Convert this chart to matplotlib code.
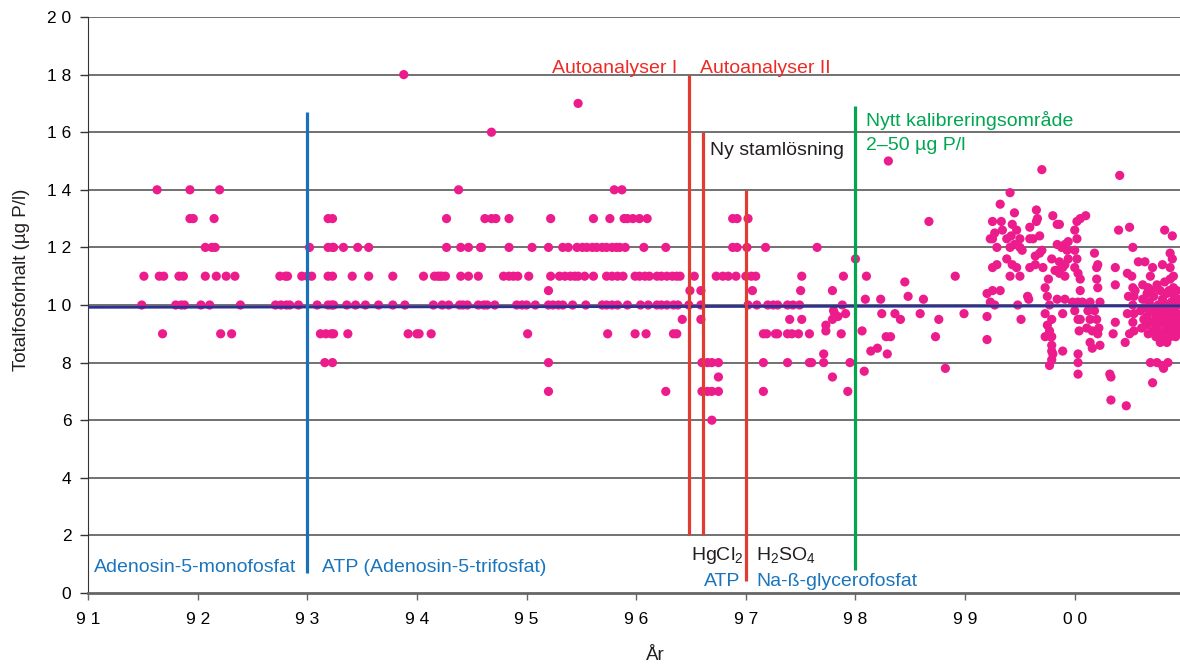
import matplotlib
matplotlib.use('Agg')
import matplotlib.pyplot as plt

plt.rcParams['font.family'] = ['Liberation Sans', 'DejaVu Sans']
plt.rcParams['mathtext.fontset'] = 'custom'
plt.rcParams['mathtext.rm'] = 'Liberation Sans'
plt.rcParams['mathtext.default'] = 'regular'

# Analyser 1991-1997 (värden avlästa i hela steg)
niva_18 = [93.88]
niva_17 = [95.47]
niva_16 = [94.68]
niva_14 = [91.63, 91.93, 92.20, 94.38, 95.80, 95.87]
niva_13 = [91.93, 91.96, 92.15, 93.19, 93.23, 94.27, 94.62, 94.68, 94.72, 94.84,
           95.22, 95.61, 95.76, 95.89, 95.92, 95.97, 96.03, 96.10, 96.88, 96.92, 97.02]
niva_12 = [92.07, 92.13, 92.16, 93.02, 93.19, 93.23, 93.24, 93.33, 93.46, 93.56,
           94.27, 94.40, 94.47, 94.58, 94.59, 94.84, 95.05, 95.20, 95.33, 95.38,
           95.46, 95.51, 95.55, 95.60, 95.64, 95.69, 95.73, 95.78, 95.82, 95.85,
           95.90, 96.07, 96.27, 96.88, 96.92, 97.01, 97.18, 97.65]
niva_11 = [91.51, 91.65, 91.69, 91.83, 91.87, 92.07, 92.17, 92.26, 92.34, 92.75,
           92.80, 92.82, 92.95, 93.00, 93.04, 93.19, 93.23, 93.41, 93.56, 93.78,
           94.06, 94.16, 94.19, 94.21, 94.23, 94.26, 94.40, 94.47, 94.56, 94.79,
           94.84, 94.88, 94.92, 95.02, 95.22, 95.30, 95.35, 95.40, 95.44, 95.47,
           95.53, 95.61, 95.73, 95.78, 95.83, 95.88, 95.99, 96.03, 96.08, 96.12,
           96.19, 96.23, 96.28, 96.33, 96.37, 96.40, 96.53, 96.73, 96.79, 96.84,
           96.91, 97.00, 97.05, 97.09, 97.51]
niva_105 = [95.20, 96.49, 96.59, 97.06, 97.50]
niva_10 = [91.49, 91.80, 91.85, 91.88, 92.03, 92.11, 92.39, 92.71, 92.76, 92.81,
           92.84, 92.92, 93.09, 93.19, 93.22, 93.24, 93.36, 93.44, 93.53, 93.65,
           93.78, 93.89, 94.15, 94.23, 94.29, 94.39, 94.42, 94.46, 94.56, 94.61,
           94.64, 94.71, 94.91, 94.96, 95.00, 95.08, 95.20, 95.24, 95.29, 95.33,
           95.42, 95.54, 95.69, 95.73, 95.78, 95.83, 95.92, 96.04, 96.11, 96.19,
           96.23, 96.28, 96.34, 96.38, 96.48, 96.59, 97.02, 97.10, 97.20, 97.25,
           97.29, 97.38, 97.43, 97.49]
niva_95 = [96.42, 96.59, 97.40, 97.51]
niva_9 = [91.68, 92.21, 92.31, 93.12, 93.17, 93.22, 93.24, 93.37, 93.92, 94.00,
          94.02, 94.13, 95.01, 95.74, 95.99, 96.09, 96.34, 96.37, 97.16, 97.19,
          97.27, 97.29, 97.38, 97.42, 97.48, 97.58]
niva_8 = [93.16, 93.23, 95.20, 96.60, 96.65, 96.69, 96.75, 97.16, 97.38, 97.58,
          97.60, 97.71]
niva_75 = [96.75]
niva_7 = [95.20, 96.27, 96.60, 96.65, 96.69, 96.75, 97.16]
niva_6 = [96.69]

nivaer = {18: niva_18, 17: niva_17, 16: niva_16, 14: niva_14, 13: niva_13,
          12: niva_12, 11: niva_11, 10.5: niva_105, 10: niva_10, 9.5: niva_95,
          9: niva_9, 8: niva_8, 7.5: niva_75, 7: niva_7, 6: niva_6}

# Analyser 1997-2000 (kontinuerliga värden)
ar_sen = [97.80, 97.84, 97.73, 97.73, 97.79, 97.71, 97.79, 97.79, 97.89, 97.88,
          97.81, 97.91, 97.87, 97.95, 97.93, 98.00,
          98.30, 98.67, 98.10, 98.91, 98.45, 98.48, 98.09, 98.23, 98.62, 98.24,
          98.36, 98.41, 98.59, 98.76, 98.99, 98.06, 98.28, 98.32, 98.73, 98.14,
          98.20, 98.29, 98.08, 98.82,
          99.70, 100.41, 99.41, 99.32, 99.45, 99.43, 99.47, 99.42, 99.50, 99.52,
          99.25, 99.33, 99.65, 99.66, 99.65, 99.80, 99.84, 99.86, 100.02, 100.05,
          100.10, 100.00, 100.02, 100.00, 100.02, 99.59, 99.59, 99.62, 99.68, 99.70,
          99.27, 99.25, 99.23, 99.29, 99.34, 99.38, 99.41, 99.45, 99.50, 99.84,
          99.88, 99.91, 99.94, 99.93, 99.68, 99.64, 99.79, 99.86, 99.91, 99.94,
          99.89, 99.84, 100.00, 100.05, 100.03, 99.38, 99.43, 99.47, 99.50, 99.29,
          99.25, 99.41, 99.59, 99.64, 99.71, 99.76, 99.82, 99.86, 99.91, 99.20,
          99.25, 99.32, 99.23, 99.27, 99.20, 99.20, 99.48, 99.51, 99.57, 99.58,
          99.73, 99.75, 99.77, 99.73, 99.79, 99.75, 99.77, 99.79, 99.73, 99.79,
          99.79, 99.80, 99.77, 99.79, 99.84, 99.91, 99.89, 99.89, 100.05, 99.98,
          100.03, 100.07, 100.00, 100.03, 100.05, 100.04, 100.03, 100.03, 100.03, 100.18,
          100.21, 100.20, 100.20, 100.21, 100.14, 100.23, 100.12, 100.18, 100.14, 100.20,
          100.16, 100.22, 100.11, 100.14, 100.16, 100.23, 100.32, 100.33, 100.33, 100.47,
          100.37, 100.37, 100.40, 100.50, 100.53, 100.37, 100.35, 100.48, 100.52, 100.49,
          100.48, 100.53, 100.55, 100.54, 100.53, 100.54, 100.53, 100.54, 100.50, 100.46,
          100.58, 100.64, 100.71, 100.69, 100.62, 100.67, 100.75, 100.82, 100.87, 100.90,
          100.82, 100.89, 100.87, 100.89, 100.87, 100.80,
          100.62, 100.64, 100.66, 100.65, 100.68, 100.70, 100.69, 100.71, 100.72, 100.73,
          100.74, 100.75, 100.76, 100.77, 100.78, 100.79, 100.80, 100.81, 100.82, 100.83,
          100.84, 100.85, 100.85, 100.86, 100.87, 100.88, 100.88, 100.89, 100.90, 100.91,
          100.91, 100.92, 100.93, 100.94, 100.94, 100.95, 100.95, 100.93, 100.90, 100.86,
          100.78, 100.70, 100.66, 100.63, 100.67, 100.74, 100.80, 100.84, 100.92, 100.68,
          100.76, 100.83, 100.89, 100.94, 100.72, 100.79, 100.86, 100.60, 100.61,
          100.69, 100.75, 100.80, 100.85, 100.71, 100.78, 100.84, 100.76, 100.21, 99.78,
          100.81]
halt_sen = [9.8, 9.6, 9.3, 9.1, 9.5, 8.3, 7.5, 10.5, 11.0, 10.0,
            9.7, 9.7, 9.0, 8.0, 7.0, 11.6,
            15.0, 12.9, 11.0, 11.0, 10.8, 10.3, 10.2, 10.2, 10.2, 9.7,
            9.7, 9.5, 9.7, 9.5, 9.7, 9.1, 8.9, 8.9, 8.9, 8.4,
            8.5, 8.3, 7.7, 7.8,
            14.7, 14.5, 13.9, 13.5, 13.2, 12.8, 12.6, 12.4, 12.3, 11.9,
            12.9, 12.9, 13.3, 13.0, 12.9, 13.1, 12.8, 12.8, 12.9, 13.0,
            13.1, 12.6, 12.3, 11.9, 11.6, 12.7, 12.3, 12.3, 12.4, 11.9,
            12.5, 12.3, 12.3, 12.0, 12.6, 12.3, 12.0, 12.1, 12.0, 12.1,
            12.0, 12.1, 12.2, 11.9, 11.8, 11.7, 11.6, 11.5, 11.4, 11.6,
            11.3, 11.2, 11.3, 10.9, 11.1, 11.6, 11.4, 11.3, 11.0, 11.4,
            11.3, 11.0, 11.3, 11.4, 11.3, 10.9, 11.2, 11.1, 11.0, 10.4,
            10.5, 10.5, 10.1, 10.0, 9.6, 8.8, 10.0, 9.5, 10.3, 10.2,
            10.6, 10.3, 10.0, 9.7, 9.5, 9.3, 9.1, 8.9, 8.9, 8.6,
            8.4, 8.3, 7.9, 8.1, 10.2, 10.2, 9.7, 8.4, 10.5, 10.1,
            10.1, 10.1, 9.8, 9.5, 9.5, 9.1, 8.3, 8.0, 7.6, 11.8,
            11.4, 11.3, 10.9, 10.6, 10.1, 10.1, 9.8, 9.8, 9.5, 9.5,
            9.1, 9.2, 9.2, 8.7, 8.5, 8.6, 7.6, 7.5, 6.7, 6.5,
            11.3, 10.7, 12.6, 12.7, 12.0, 9.4, 9.0, 11.1, 11.0, 10.3,
            9.7, 10.6, 10.5, 10.3, 10.0, 9.7, 9.4, 9.1, 9.0, 8.7,
            11.5, 11.5, 11.3, 11.0, 10.7, 10.6, 10.7, 10.8, 10.9, 11.0,
            12.6, 12.4, 11.8, 11.6, 11.3, 11.4,
            10.2, 9.9, 9.6, 9.3, 10.1, 9.8, 9.4, 9.1, 10.3, 9.9,
            9.6, 9.2, 10.0, 9.7, 9.4, 9.0, 10.2, 9.8, 9.5, 9.2,
            10.4, 10.0, 9.7, 9.3, 8.9, 10.1, 9.8, 9.5, 9.1, 10.3,
            9.9, 9.6, 9.2, 10.0, 9.7, 9.4, 10.2, 10.5, 10.6, 10.5,
            10.5, 10.5, 10.4, 9.5, 9.0, 8.9, 8.8, 8.8, 8.9, 9.95,
            9.5, 9.95, 9.35, 9.0, 9.4, 9.85, 9.05, 9.8, 9.2,
            8.0, 8.0, 7.9, 8.0, 7.3, 8.7, 8.7, 8.9, 9.0, 8.9,
            7.8]

# Medelvärdeslinje och metodbyten
medel_ar = [91.0, 100.96]
medel_halt = [9.92, 9.97]

bytes_ar = [93.0, 96.48, 96.61, 97.0, 98.0]
bytes_fran = [0.7, 2.0, 2.0, 0.42, 0.8]
bytes_till = [16.7, 18.0, 16.0, 14.0, 16.9]
bytes_farg = ['#1a71b8', '#e03c31', '#e03c31', '#e03c31', '#00a650']

xtick_pos = [91, 92, 93, 94, 95, 96, 97, 98, 99, 100]
xtick_text = ['9 1', '9 2', '9 3', '9 4', '9 5', '9 6', '9 7', '9 8', '9 9', '0 0']
ytick_pos = [0, 2, 4, 6, 8, 10, 12, 14, 16, 18, 20]
ytick_text = ['0', '2', '4', '6', '8', '1 0', '1 2', '1 4', '1 6', '1 8', '2 0']

x_alla = []
y_alla = []
for niva, ar in nivaer.items():
    x_alla += ar
    y_alla += [niva] * len(ar)
x_alla += ar_sen
y_alla += halt_sen

fig = plt.figure(figsize=(11.8, 6.67), dpi=100)
ax = fig.add_axes([88 / 1180, 1 - 593 / 667, 1 - 88 / 1180, (593 - 17) / 667])

for y in ytick_pos[1:]:
    ax.axhline(y, color='#4a4a4a', lw=1.1, zorder=1)

ax.scatter(x_alla, y_alla, s=44, color='#ec1c8c', edgecolors='none', zorder=3)
ax.plot(medel_ar, medel_halt, color='#2e3192', lw=2, zorder=4)

for x, y0, y1, c in zip(bytes_ar, bytes_fran, bytes_till, bytes_farg):
    ax.plot([x, x], [y0, y1], color=c, lw=2.3, zorder=5, solid_capstyle='butt')

# Texter vid metodbytena
rod = '#ee2a24'
bla = '#1b75bc'
gron = '#00a651'
svart = '#231f20'
fs = 14
ax.text(96.37, 18.06, 'Autoanalyser I', color=rod, fontsize=fs, ha='right')
ax.text(96.58, 18.06, 'Autoanalyser II', color=rod, fontsize=fs)
ax.text(96.67, 15.21, 'Ny stamlösning', color=svart, fontsize=fs)
ax.text(98.10, 16.22, 'Nytt kalibreringsområde', color=gron, fontsize=fs)
ax.text(98.10, 15.38, '2–50 µg P/l', color=gron, fontsize=fs)
ax.text(91.05, 0.73, 'Adenosin-5-monofosfat', color=bla, fontsize=fs)
ax.text(93.13, 0.73, 'ATP (Adenosin-5-trifosfat)', color=bla, fontsize=fs)
ax.text(96.50, 1.15, 'HgCl$_2$', color=svart, fontsize=fs)
ax.text(97.09, 1.15, 'H$_2$SO$_4$', color=svart, fontsize=fs)
ax.text(96.95, 0.24, 'ATP', color=bla, fontsize=fs, ha='right')
ax.text(97.10, 0.24, 'Na-ß-glycerofosfat', color=bla, fontsize=fs)

ax.set_xlim(91, 100.96)
ax.set_ylim(0, 20)
ax.set_xticks(xtick_pos)
ax.set_xticklabels(xtick_text)
ax.set_yticks(ytick_pos)
ax.set_yticklabels(ytick_text)
ax.tick_params(axis='y', length=6, width=1, color='#333333', pad=6, labelsize=12.5)
ax.tick_params(axis='x', length=5, width=1, color='#666666', pad=9, labelsize=12.5)

ax.spines['top'].set_visible(False)
ax.spines['right'].set_visible(False)
ax.spines['left'].set_color('#333333')
ax.spines['bottom'].set_color('#666666')
ax.spines['bottom'].set_linewidth(2)

fig.text(22 / 1180, 1 - 280 / 667, 'Totalfosforhalt (µg P/l)', rotation=90,
         ha='center', va='center', fontsize=13.5, color=svart)
fig.text(655 / 1180, 1 - 655 / 667, 'År', ha='center', va='center', fontsize=13.5, color=svart)

fig.savefig('out.png', dpi=100)
